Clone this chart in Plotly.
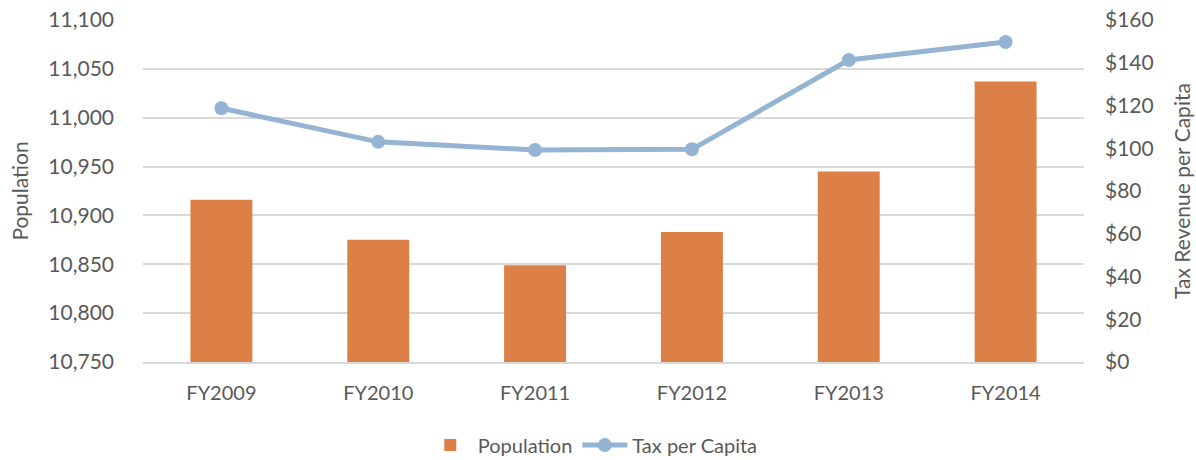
import plotly.graph_objects as go

years = ["FY2009", "FY2010", "FY2011", "FY2012", "FY2013", "FY2014"]
population = [10916, 10875, 10849, 10883, 10945, 11037]
tax_per_capita = [118.7, 103.0, 99.2, 99.5, 141.3, 149.7]

FONT = "Lato, Open Sans, sans-serif"
TXT = "#595959"
GRID = "#d9d9d9"

fig = go.Figure()
fig.add_trace(go.Bar(
    x=years, y=population, name="Population",
    marker=dict(color="#dc8047", line=dict(width=0)),
    yaxis="y",
))
fig.add_trace(go.Scatter(
    x=years, y=tax_per_capita, name="Tax per Capita",
    mode="lines+markers",
    line=dict(color="#95b4d4", width=5),
    marker=dict(color="#95b4d4", size=14),
    yaxis="y2",
))

fig.update_layout(
    width=1196, height=460,
    margin=dict(l=143, r=112, t=20, b=98, autoexpand=False),
    paper_bgcolor="white", plot_bgcolor="white",
    font=dict(family=FONT, size=20, color=TXT),
    bargap=0.605,
    showlegend=True,
    legend=dict(orientation="h", x=0.478, xanchor="center", y=-0.243, yanchor="middle",
                font=dict(size=20, color=TXT), itemwidth=45, traceorder="normal"),
    xaxis=dict(type="category", showgrid=False, showline=True, linecolor=GRID, linewidth=1.5,
               ticks="", tickfont=dict(size=20, color=TXT), ticklabelstandoff=12, automargin=False),
    yaxis=dict(range=[10750, 11100], dtick=50, tickformat=",", showgrid=True,
               gridcolor=GRID, gridwidth=1.5, zeroline=False, ticks="",
               tickfont=dict(size=21, color=TXT),
               ticklabelstandoff=28, automargin=False,
               title=dict(text="Population", font=dict(size=21, color=TXT), standoff=13)),
    yaxis2=dict(range=[0, 160], dtick=20, tickprefix="$", overlaying="y", side="right",
                showgrid=False, zeroline=False, ticks="", ticklabelstandoff=20, automargin=False,
                tickfont=dict(size=21, color=TXT),
                title=dict(text="Tax Revenue per Capita", font=dict(size=21, color=TXT), standoff=22)),
)

fig.write_html("out.html", config={"displayModeBar": False},
               post_script="document.body.style.margin='0';")
